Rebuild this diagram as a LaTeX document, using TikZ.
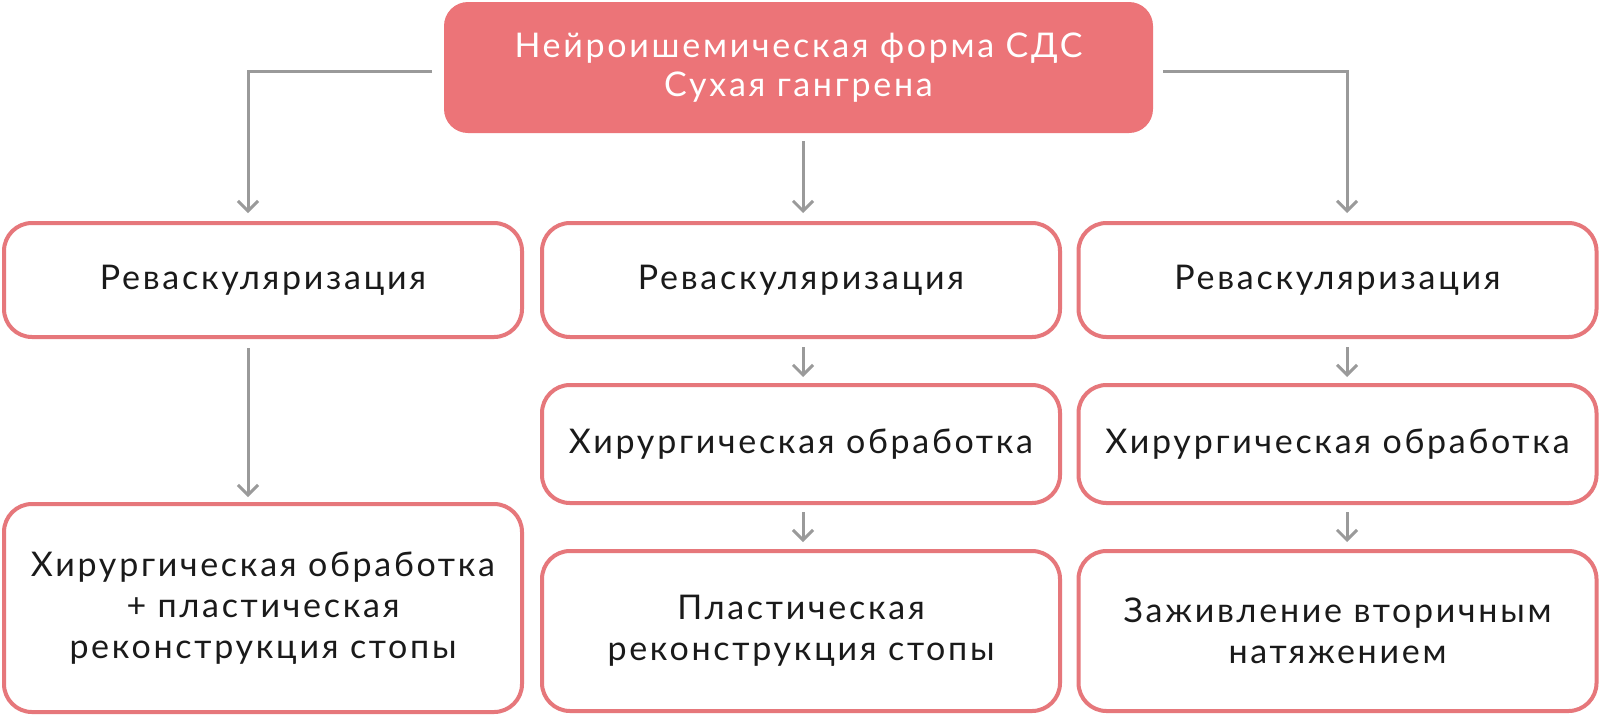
\documentclass[tikz,border=0pt]{standalone}
\usepackage{fontspec}
\setmainfont[LetterSpace=8]{Lato}
\usetikzlibrary{arrows.meta}
\definecolor{boxred}{HTML}{E6777B}
\definecolor{topfill}{HTML}{EC7478}
\definecolor{conngray}{HTML}{9A9A9A}
\definecolor{txt}{HTML}{1A1A1A}
\tikzset{
 topbox/.style={fill=topfill, draw=none, rounded corners=24pt, minimum width=709pt, minimum height=131pt, inner sep=0pt, outer sep=0pt, text=white, align=center, font=\fontsize{34}{39}\selectfont},
 stepbox/.style={draw=boxred, line width=4pt, fill=white, rounded corners=28pt, minimum width=518pt, inner sep=0pt, outer sep=0pt, text=txt, align=center, font=\fontsize{34}{41}\selectfont},
 conn/.style={draw=conngray, line width=3pt, -{Straight Barb[length=10pt,width=20pt]}},
}
\begin{document}
\begin{tikzpicture}[x=1pt,y=-1pt]
\useasboundingbox[fill=white] (0,0) rectangle (1600,716);
\node[topbox] (top) at (798.5,67.5) {Нейроишемическая форма СДС\\Сухая гангрена};
\node[stepbox, minimum height=114pt] (r1L) at (263,280) {Реваскуляризация};
\node[stepbox, minimum height=114pt] (r1M) at (801,280) {Реваскуляризация};
\node[stepbox, minimum height=114pt] (r1R) at (1337.5,280) {Реваскуляризация};
\node[stepbox, minimum height=118pt] (r2M) at (801,444) {Хирургическая обработка};
\node[stepbox, minimum height=118pt] (r2R) at (1337.5,444) {Хирургическая обработка};
\node[stepbox, minimum height=208pt] (r3L) at (263,608) {Хирургическая обработка\\+ пластическая\\реконструкция стопы};
\node[stepbox, minimum height=160pt] (r3M) at (801,631) {Пластическая\\реконструкция стопы};
\node[stepbox, minimum height=160pt] (r3R) at (1337.5,631) {Заживление вторичным\\натяжением};
\coordinate (tl) at (432,71);
\coordinate (tr) at (1163,71);
\coordinate (tm) at (803,141);
\draw[conn, shorten >=10pt] (tl) -| ([xshift=-15pt]r1L.north);
\draw[conn, shorten >=10pt] (tm) -- (tm |- r1M.north);
\draw[conn, shorten >=10pt] (tr) -| ([xshift=9.5pt]r1R.north);
\draw[conn] ([xshift=-15pt,yshift=-11pt]r1L.south) -- ([xshift=-15pt,yshift=7pt]r3L.north);
\draw[conn] ([xshift=2pt,yshift=-10pt]r1M.south) -- ([xshift=2pt,yshift=8pt]r2M.north);
\draw[conn] ([xshift=2pt,yshift=-9pt]r2M.south) -- ([xshift=2pt,yshift=9pt]r3M.north);
\draw[conn] ([xshift=9.5pt,yshift=-10pt]r1R.south) -- ([xshift=9.5pt,yshift=8pt]r2R.north);
\draw[conn] ([xshift=9.5pt,yshift=-9pt]r2R.south) -- ([xshift=9.5pt,yshift=9pt]r3R.north);
\end{tikzpicture}
\end{document}
